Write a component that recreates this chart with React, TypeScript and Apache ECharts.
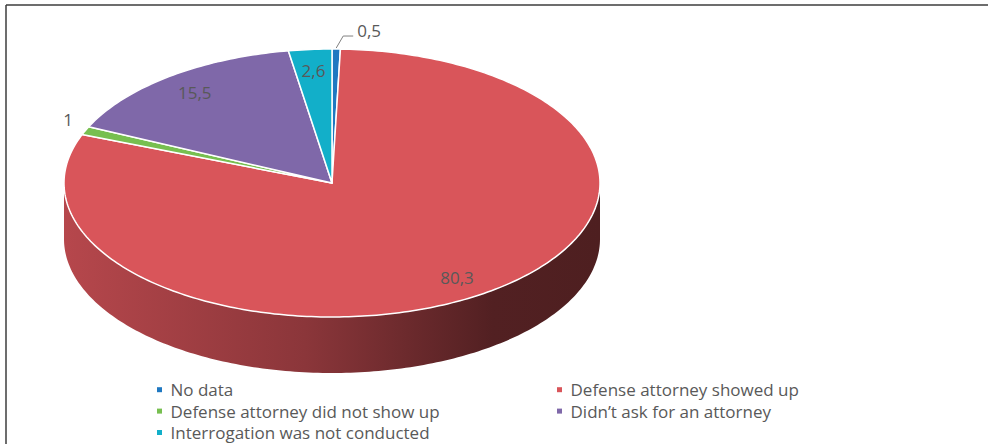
import React, { useEffect, useRef } from "react";
import * as echarts from "echarts";

const CATEGORIES = [
  "No data",
  "Defense attorney showed up",
  "Defense attorney did not show up",
  "Didn’t ask for an attorney",
  "Interrogation was not conducted",
];
const VALUES = [0.5, 80.3, 1, 15.5, 2.6];
const COLORS = ["#1F78C1", "#D9555A", "#77BF50", "#7F68A9", "#12AFC9"];

// layout constants (geometry of the 3D pie)
const CX = 332;
const CY = 183;
const RX = 268;
const RY = 134;
const DEPTH = 56;
const FONT = '"Open Sans", "Liberation Sans", sans-serif';

function shade(hex: string, f: number) {
  const n = parseInt(hex.slice(1), 16);
  const r = Math.round(((n >> 16) & 255) * f);
  const g = Math.round(((n >> 8) & 255) * f);
  const b = Math.round((n & 255) * f);
  return `rgb(${r},${g},${b})`;
}

function fmt(v: number) {
  return String(v).replace(".", ",");
}

function renderItem(params: any, api: any) {
  const i = params.dataIndex;
  const total = VALUES.reduce((a, b) => a + b, 0);
  let before = 0;
  for (let j = 0; j < i; j++) before += VALUES[j];
  const v = api.value(0);
  const a0 = (before / total) * Math.PI * 2;
  const a1 = ((before + v) / total) * Math.PI * 2;
  const pt = (a: number, r = 1, dz = 0) => [
    CX + RX * r * Math.sin(a),
    CY - RY * r * Math.cos(a) + dz,
  ];
  const arc = (s: number, e: number, dz: number) => {
    const n = Math.max(2, Math.ceil((e - s) / (Math.PI / 180)));
    const out: number[][] = [];
    for (let k = 0; k <= n; k++) out.push(pt(s + ((e - s) * k) / n, 1, dz));
    return out;
  };
  const color = COLORS[i];
  const children: any[] = [];

  // front side wall
  const s = Math.max(a0, Math.PI / 2);
  const e = Math.min(a1, (Math.PI * 3) / 2);
  if (e > s) {
    const pts = [...arc(s, e, 0), ...arc(s, e, DEPTH).reverse()];
    children.push({
      type: "polygon",
      shape: { points: pts },
      style: {
        fill: new echarts.graphic.LinearGradient(
          CX - RX,
          0,
          CX + RX,
          0,
          [
            { offset: 0, color: shade(color, 0.84) },
            { offset: 0.45, color: shade(color, 0.64) },
            { offset: 0.8, color: shade(color, 0.38) },
            { offset: 1, color: shade(color, 0.36) },
          ],
          true
        ),
      },
    });
  }

  // top face
  children.push({
    type: "polygon",
    shape: { points: [[CX, CY], ...arc(a0, a1, 0)] },
    style: { fill: color, stroke: "#ffffff", lineWidth: 1.5, lineJoin: "round" },
  });

  // label
  const mid = (a0 + a1) / 2;
  const share = v / total;
  const labelStyle: any = {
    text: fmt(v),
    fill: "#595959",
    font: `17px ${FONT}`,
  };
  if (share >= 0.02) {
    const p = pt(mid, 0.845);
    children.push({
      type: "text",
      x: p[0],
      y: p[1],
      z2: 10,
      style: { ...labelStyle, align: "center", verticalAlign: "middle" },
    });
  } else if (Math.abs(Math.sin(mid)) < 0.3) {
    const edge = pt(mid, 1);
    children.push({
      type: "polyline",
      shape: {
        points: [
          [edge[0], edge[1] - 1],
          [edge[0] + 7, edge[1] - 13],
          [edge[0] + 17, edge[1] - 13],
        ],
      },
      style: { stroke: "#808080", lineWidth: 1, fill: null },
    });
    children.push({
      type: "text",
      x: edge[0] + 21,
      y: edge[1] - 19,
      z2: 10,
      style: { ...labelStyle, align: "left", verticalAlign: "middle" },
    });
  } else {
    const p = pt(mid, 1.05);
    const left = Math.sin(mid) < 0;
    children.push({
      type: "text",
      x: p[0],
      y: p[1],
      z2: 10,
      style: {
        ...labelStyle,
        align: left ? "right" : "left",
        verticalAlign: "bottom",
      },
    });
  }
  return { type: "group", children };
}

export default function App() {
  const ref = useRef<HTMLDivElement>(null);
  useEffect(() => {
    if (!ref.current) return;
    const chart = echarts.init(ref.current, null, { renderer: "svg" });
    const legendBase = {
      orient: "vertical",
      top: 379,
      height: 65,
      padding: 0,
      icon: "rect",
      itemWidth: 5,
      itemHeight: 5,
      itemGap: 0,
      selectedMode: false,
      textStyle: {
        color: "#595959",
        fontSize: 17,
        fontFamily: FONT,
        lineHeight: 21.4,
        padding: [0, 0, 0, 3.5],
      },
    };
    chart.setOption({
      animation: false,
      backgroundColor: "#ffffff",
      legend: [
        { ...legendBase, left: 157, data: [CATEGORIES[0], CATEGORIES[2], CATEGORIES[4]] },
        { ...legendBase, left: 557, data: [CATEGORIES[1], CATEGORIES[3]] },
      ],
      graphic: [
        {
          type: "line",
          shape: { x1: 6, y1: 5, x2: 988, y2: 5 },
          style: { stroke: "#3c3c3c", lineWidth: 1.5 },
        },
        {
          type: "line",
          shape: { x1: 6, y1: 5, x2: 6, y2: 444 },
          style: { stroke: "#3c3c3c", lineWidth: 1.5 },
        },
      ],
      series: [
        {
          type: "pie",
          name: "legend",
          radius: [0, 0],
          center: [-100, -100],
          silent: true,
          label: { show: false },
          labelLine: { show: false },
          data: CATEGORIES.map((name, i) => ({
            name,
            value: VALUES[i],
            itemStyle: { color: COLORS[i] },
          })),
        },
        {
          type: "custom",
          name: "pie3d",
          coordinateSystem: "none",
          silent: true,
          renderItem,
          data: VALUES.map((v) => [v]),
        },
      ],
    });
    return () => chart.dispose();
  }, []);
  return (
    <div
      ref={ref}
      style={{ position: "fixed", left: 0, top: 0, width: 988, height: 444 }}
    />
  );
}
